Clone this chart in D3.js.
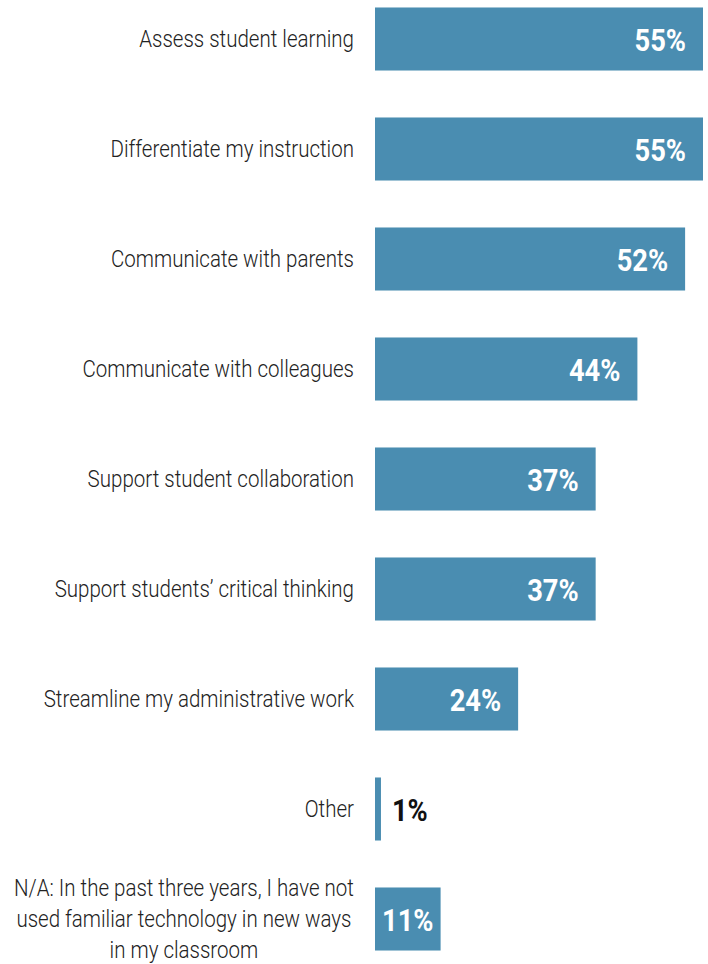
<!DOCTYPE html>
<html>
<head>
<meta charset="utf-8">
<script src="https://cdn.jsdelivr.net/npm/d3@7"></script>
<style>
  html, body { margin: 0; padding: 0; background: #fff; }
  svg { display: block; }
</style>
</head>
<body>
<svg id="chart" width="708" height="964"></svg>
<script>
// Ways teachers used familiar technology in new ways (share of respondents, %)
const categories = [
  "Assess student learning",
  "Differentiate my instruction",
  "Communicate with parents",
  "Communicate with colleagues",
  "Support student collaboration",
  "Support students\u2019 critical thinking",
  "Streamline my administrative work",
  "Other",
  "N/A: In the past three years, I have not|used familiar technology in new ways|in my classroom"
];
const values = [55, 55, 52, 44, 37, 37, 24, 1, 11];

const barLeft = 375;
const labelRight = 354;
const barColor = "#4a8db1";
const labelFont = "Roboto, 'Noto Sans', sans-serif";
const squeeze = 0.855;      // narrow the category glyphs to a condensed look
const valueSqueeze = 0.88;  // same for the value labels
const valuePad = 17;

const svg = d3.select("#chart");

const x = d3.scaleLinear().domain([0, 55]).range([barLeft, 703]);
const y = d3.scaleBand()
  .domain(d3.range(categories.length))
  .range([-16, 974])
  .paddingInner(0.427)
  .paddingOuter(0.2135);

const rows = svg.selectAll("g.row")
  .data(categories.map((c, i) => ({ label: c, value: values[i], i })))
  .join("g")
  .attr("class", "row");

// Bars
rows.append("rect")
  .attr("x", x(0))
  .attr("y", d => y(d.i))
  .attr("width", d => x(d.value) - x(0))
  .attr("height", y.bandwidth())
  .attr("fill", barColor);

// Category labels (right-aligned; multi-line labels are centred on their widest line)
rows.each(function(d) {
  const lines = d.label.split("|");
  const cy = y(d.i) + y.bandwidth() / 2;
  const lineH = 31;
  const g = d3.select(this).append("g");
  const t = g.append("text")
    .attr("font-family", labelFont)
    .attr("font-weight", 300)
    .attr("font-size", 24)
    .attr("fill", "#222");
  const first = cy + 8 - (lines.length - 1) * lineH / 2;
  lines.forEach((ln, k) => {
    t.append("tspan")
      .attr("x", 0)
      .attr("y", first + k * lineH)
      .text(ln);
  });
  if (lines.length === 1) {
    t.attr("text-anchor", "end");
    g.attr("transform", `translate(${labelRight},0) scale(${squeeze},1)`);
  } else {
    t.attr("text-anchor", "middle");
    const widest = d3.max(t.selectAll("tspan").nodes(), n => n.getComputedTextLength());
    g.attr("transform", `translate(${labelRight - widest * squeeze / 2},0) scale(${squeeze},1)`);
  }
});

// Value labels: right-aligned inside wide bars, centred in narrow ones,
// and placed just past the end of bars too thin to hold them
rows.each(function(d) {
  const cy = y(d.i) + y.bandwidth() / 2;
  const barW = x(d.value) - x(0);
  const g = d3.select(this).append("g");
  const t = g.append("text")
    .attr("font-family", labelFont)
    .attr("font-weight", 700)
    .attr("font-size", 31)
    .text(d3.format("d")(d.value) + "%");
  const tw = t.node().getComputedTextLength() * valueSqueeze;
  let tx, anchor, fill = "#fff";
  if (barW >= tw + 2 * valuePad) {
    tx = x(d.value) - valuePad; anchor = "end";
  } else if (barW >= tw + 8) {
    tx = x(0) + barW / 2; anchor = "middle";
  } else {
    tx = x(d.value) + 11; anchor = "start"; fill = "#111";
  }
  t.attr("text-anchor", anchor).attr("fill", fill);
  g.attr("transform", `translate(${tx},${cy + 12}) scale(${valueSqueeze},1)`);
});
</script>
</body>
</html>
